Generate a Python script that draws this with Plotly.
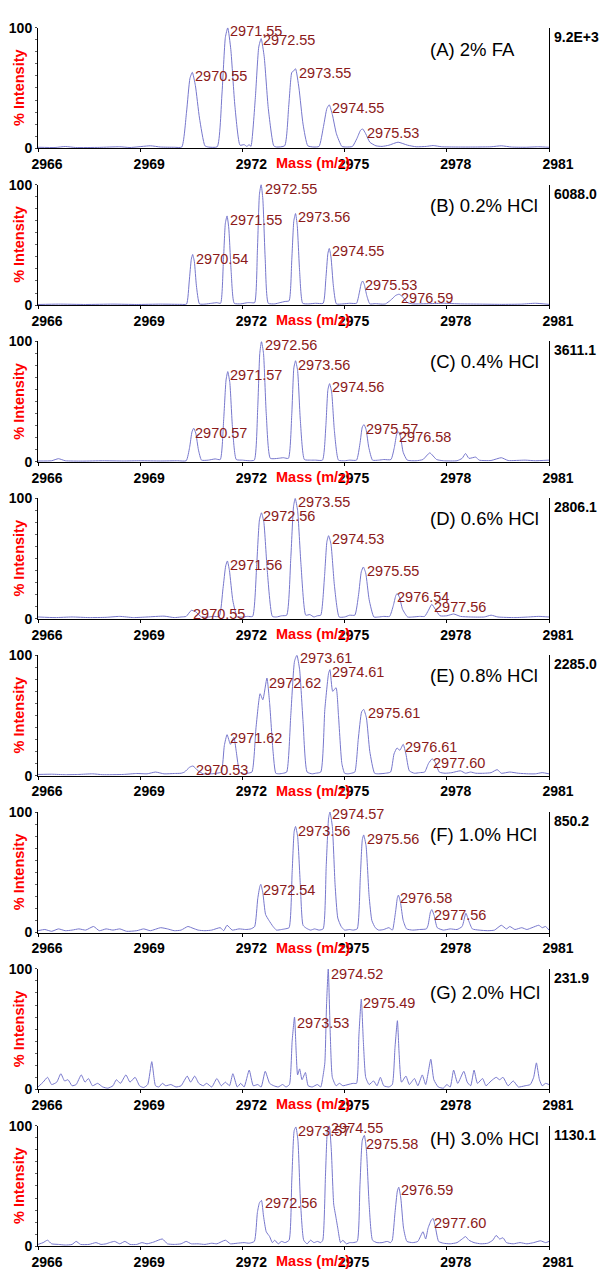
import plotly.graph_objects as go

# ---------------- data ----------------
conditions = ["(A) 2% FA", "(B) 0.2% HCl", "(C) 0.4% HCl", "(D) 0.6% HCl",
              "(E) 0.8% HCl", "(F) 1.0% HCl", "(G) 2.0% HCl", "(H) 3.0% HCl"]
max_counts = ["9.2E+3", "6088.0", "3611.1", "2806.1", "2285.0", "850.2", "231.9", "1130.1"]
x_ticks = [2966, 2969, 2972, 2975, 2978, 2981]

mz_A = [2966.0, 2966.5, 2966.8, 2967.1, 2967.8, 2968.4, 2968.7, 2969.3, 2969.6, 2970.0,
        2970.22, 2970.36, 2970.46, 2970.53, 2970.62, 2970.74, 2970.9, 2971.0,
        2971.26, 2971.40, 2971.50, 2971.57, 2971.66, 2971.78, 2971.93, 2972.05, 2972.13, 2972.2,
        2972.25, 2972.38, 2972.48, 2972.55, 2972.64, 2972.76, 2972.92, 2973.0,
        2973.24, 2973.36, 2973.45, 2973.50, 2973.56, 2973.66, 2973.78, 2973.92, 2974.1,
        2974.25, 2974.38, 2974.48, 2974.55, 2974.64, 2974.76, 2974.92, 2975.05,
        2975.23, 2975.36, 2975.47, 2975.53, 2975.62, 2975.74, 2975.92, 2976.1,
        2976.3, 2976.57, 2976.85, 2977.1, 2977.4, 2977.6, 2977.85, 2978.3, 2978.8,
        2979.3, 2979.6, 2979.9, 2980.3, 2980.7, 2981.0]
int_A = [0.8, 0.6, 1.4, 0.6, 0.7, 1.2, 0.6, 2.0, 1.0, 0.8,
         1.0, 30, 58, 63, 52, 25, 2, 1.0,
         1.2, 45, 92, 100, 82, 35, 2.5, 3.0, 1.5, 3.0,
         1.5, 42, 84, 91, 76, 33, 2, 1.0,
         2, 35, 63, 64, 66, 50, 20, 2, 1.0,
         1.5, 18, 33, 36, 28, 12, 1.5, 1.0,
         1.5, 8, 15, 16, 12, 5, 2, 1.5,
         2.5, 5, 2.5, 1.2, 1.5, 2.2, 1.2, 1.0, 1.0,
         1.2, 2.0, 1.0, 0.8, 1.2, 0.8]

mz_B = [2966.0, 2966.6, 2967.4, 2968.2, 2968.9, 2969.6, 2970.2,
        2970.36, 2970.44, 2970.50, 2970.54, 2970.59, 2970.65, 2970.74, 2970.9, 2971.1, 2971.25,
        2971.36, 2971.44, 2971.50, 2971.55, 2971.60, 2971.67, 2971.76, 2971.95, 2972.15, 2972.25,
        2972.36, 2972.44, 2972.50, 2972.55, 2972.60, 2972.67, 2972.76, 2972.95, 2973.1, 2973.25,
        2973.37, 2973.45, 2973.51, 2973.56, 2973.61, 2973.68, 2973.77, 2973.95, 2974.15,
        2974.37, 2974.45, 2974.51, 2974.55, 2974.60, 2974.67, 2974.76, 2974.95, 2975.15,
        2975.35, 2975.43, 2975.49, 2975.53, 2975.58, 2975.65, 2975.74, 2975.9, 2976.1,
        2976.2, 2976.35, 2976.5, 2976.6, 2976.7, 2976.85, 2977.0,
        2977.5, 2977.9, 2978.4, 2979.0, 2979.6, 2980.2, 2980.6, 2981.0]
int_B = [0.5, 0.8, 0.5, 0.8, 0.5, 0.8, 0.6,
         0.8, 20, 38, 42, 36, 16, 1, 0.8, 1.5, 2.0,
         1.5, 35, 68, 74, 64, 28, 1.5, 1.0, 2.0, 2.0,
         2, 45, 92, 100, 88, 38, 1.5, 1.0, 2.0, 3.0,
         3.5, 38, 70, 76, 66, 28, 1.5, 1.0, 1.5,
         1.5, 22, 43, 47, 40, 16, 1.0, 1.0, 1.5,
         1.5, 10, 18, 20, 17, 8, 1.0, 1.2, 0.8,
         1.0, 4, 8, 9, 7, 2, 1.0,
         1.2, 1.5, 1.0, 0.8, 0.6, 0.8, 1.5, 0.6]

mz_C = [2966.0, 2966.4, 2966.6, 2966.8, 2967.3, 2967.9, 2968.5, 2969.0, 2969.6, 2970.1,
        2970.35, 2970.45, 2970.52, 2970.57, 2970.63, 2970.71, 2970.8, 2971.0, 2971.2,
        2971.35, 2971.45, 2971.52, 2971.57, 2971.63, 2971.71, 2971.82, 2972.0, 2972.2,
        2972.35, 2972.45, 2972.51, 2972.56, 2972.62, 2972.70, 2972.82, 2973.05, 2973.2,
        2973.35, 2973.45, 2973.51, 2973.56, 2973.62, 2973.70, 2973.82, 2974.0, 2974.15,
        2974.35, 2974.45, 2974.51, 2974.56, 2974.62, 2974.70, 2974.82, 2975.0, 2975.15,
        2975.35, 2975.45, 2975.52, 2975.57, 2975.63, 2975.71, 2975.82, 2976.0, 2976.15,
        2976.36, 2976.46, 2976.53, 2976.58, 2976.64, 2976.72, 2976.84,
        2977.1, 2977.3, 2977.5, 2977.7, 2977.9, 2978.3, 2978.45, 2978.55, 2978.65, 2978.85,
        2978.95, 2979.3, 2979.6, 2979.8, 2980.3, 2980.6, 2981.0]
int_C = [0.8, 1.0, 2.7, 1.0, 0.7, 1.0, 0.8, 1.0, 0.8, 1.0,
         1, 12, 25, 28, 24, 10, 1.5, 1.5, 2.5,
         2, 35, 68, 75, 66, 28, 2, 1.5, 1.0,
         1.5, 45, 90, 100, 90, 40, 3, 3.0, 3.5,
         3, 40, 78, 84, 76, 35, 2, 1.5, 1.5,
         1.5, 30, 60, 65, 58, 26, 1.5, 1.0, 1.5,
         1.5, 15, 29, 31, 27, 12, 1.5, 1.5, 2,
         2, 12, 23, 25, 21, 8, 1.5,
         1.0, 2, 7.5, 2, 1.0, 1.0, 3, 7, 3, 4,
         1.5, 1.2, 3.5, 1.2, 1.5, 1.0, 1.5]

mz_D = [2966.0, 2966.5, 2967.0, 2967.5, 2968.0, 2968.4, 2968.8, 2969.2, 2969.7, 2970.0, 2970.2,
        2970.35, 2970.5, 2970.62, 2970.8, 2971.0, 2971.15,
        2971.32, 2971.43, 2971.51, 2971.56, 2971.62, 2971.72, 2971.85, 2972.0, 2972.15,
        2972.30, 2972.42, 2972.50, 2972.56, 2972.63, 2972.73, 2972.88, 2973.0, 2973.15,
        2973.30, 2973.42, 2973.50, 2973.55, 2973.62, 2973.72, 2973.86, 2973.98, 2974.1, 2974.2,
        2974.30, 2974.41, 2974.48, 2974.53, 2974.60, 2974.70, 2974.84, 2975.0, 2975.15,
        2975.30, 2975.41, 2975.49, 2975.55, 2975.62, 2975.72, 2975.86, 2976.0, 2976.15,
        2976.32, 2976.43, 2976.50, 2976.54, 2976.61, 2976.70, 2976.85, 2977.0, 2977.2,
        2977.35, 2977.46, 2977.56, 2977.66, 2977.8,
        2978.0, 2978.2, 2978.4, 2978.7, 2979.1, 2979.3, 2979.5, 2980.0, 2980.4, 2980.7, 2981.0]
int_D = [1.5, 1.0, 1.5, 1.0, 1.2, 2.0, 1.0, 1.5, 2.2, 1.0, 1.5,
         2, 7, 6, 1.5, 1.5, 2,
         2, 25, 44, 48, 40, 15, 1.5, 1.5, 2,
         2, 45, 82, 88, 80, 40, 2, 1.5, 2.5,
         3, 50, 93, 100, 90, 45, 3, 3.5, 1.5, 2.5,
         3, 35, 64, 69, 62, 28, 1.5, 1.5, 3,
         3, 20, 39, 43, 38, 16, 1.5, 1.5, 2,
         2, 11, 19, 21, 18, 8, 1.5, 1.5, 2,
         2, 7, 12, 8, 2.5,
         2.5, 4, 2, 1.5, 1.5, 3, 1.5, 1.0, 1.5, 2, 1.5]

mz_E = [2966.0, 2966.4, 2966.8, 2967.2, 2967.6, 2967.9, 2968.5, 2968.9, 2969.2, 2969.45, 2969.7,
        2970.0, 2970.2, 2970.3, 2970.45, 2970.55, 2970.7, 2970.85, 2971.1, 2971.25,
        2971.38, 2971.47, 2971.55, 2971.65, 2971.75, 2971.82, 2971.92, 2972.05, 2972.15,
        2972.28, 2972.40, 2972.52, 2972.60, 2972.72, 2972.80, 2972.9, 2972.98, 2973.08, 2973.2,
        2973.30, 2973.42, 2973.53, 2973.6, 2973.68, 2973.78, 2973.9, 2974.05, 2974.15,
        2974.30, 2974.42, 2974.53, 2974.57, 2974.65, 2974.75, 2974.82, 2974.92, 2975.0, 2975.1, 2975.2,
        2975.30, 2975.40, 2975.50, 2975.56, 2975.64, 2975.74, 2975.88, 2976.0, 2976.2,
        2976.35, 2976.45, 2976.54, 2976.62, 2976.72, 2976.8, 2976.9, 2977.05, 2977.2,
        2977.35, 2977.46, 2977.57, 2977.66, 2977.78,
        2977.95, 2978.15, 2978.4, 2978.55, 2978.7, 2978.85, 2979.1, 2979.3, 2979.48, 2979.6,
        2979.85, 2980.1, 2980.4, 2980.6, 2980.8, 2981.0]
int_E = [1.0, 1.2, 0.8, 1.0, 1.5, 0.8, 1.0, 1.8, 1.5, 3, 1.5,
         1.8, 2, 3, 7, 8, 4, 1.5, 1.5, 2,
         3, 25, 34, 26, 32, 20, 3, 1.5, 2,
         3, 40, 68, 63, 81, 60, 20, 2, 1.5, 2,
         3, 50, 95, 100, 88, 45, 3, 1.5, 2,
         3, 55, 85, 88, 70, 73, 50, 10, 2, 1.5, 2,
         3, 30, 53, 55, 48, 20, 2, 1.5, 2,
         3, 18, 23, 21, 26, 18, 4, 2, 2.5,
         3, 10, 14, 11, 3,
         2, 2.5, 4, 2, 3, 2, 2, 2.5, 5, 2,
         3, 2, 1.5, 1.5, 2.5, 1.5]

mz_F = [2966.0, 2966.2, 2966.4, 2966.6, 2966.8, 2967.0, 2967.2, 2967.4, 2967.63, 2967.8,
        2968.0, 2968.2, 2968.4, 2968.6, 2968.9, 2969.1, 2969.3, 2969.6, 2969.8, 2970.0,
        2970.2, 2970.4, 2970.55, 2970.7, 2970.9, 2971.1, 2971.35, 2971.45, 2971.55, 2971.7,
        2971.9, 2972.1, 2972.25,
        2972.36, 2972.45, 2972.51, 2972.54, 2972.60, 2972.68, 2972.78, 2972.9, 2973.0, 2973.15, 2973.25,
        2973.37, 2973.46, 2973.52, 2973.56, 2973.62, 2973.70, 2973.78, 2973.88, 2974.0, 2974.12, 2974.25,
        2974.37, 2974.46, 2974.53, 2974.57, 2974.64, 2974.72, 2974.8, 2974.9, 2975.0, 2975.15, 2975.25,
        2975.37, 2975.46, 2975.52, 2975.56, 2975.63, 2975.72, 2975.8, 2975.9, 2976.0, 2976.15, 2976.3, 2976.4,
        2976.42, 2976.5, 2976.55, 2976.58, 2976.64, 2976.72, 2976.82, 2977.0, 2977.2, 2977.4,
        2977.45, 2977.52, 2977.56, 2977.63, 2977.72, 2977.9, 2978.1, 2978.3, 2978.45, 2978.56,
        2978.64, 2978.75, 2978.95, 2979.2, 2979.4, 2979.6, 2979.75, 2979.85, 2980.0, 2980.2,
        2980.35, 2980.5, 2980.7, 2980.8, 2980.9, 2981.0]
int_F = [1.5, 2.5, 1.0, 3, 1.5, 2, 3, 2, 5, 1.5,
         3, 2, 3, 1.0, 1.5, 3, 1.5, 4, 3, 1.5,
         2, 5, 3.5, 2, 1.5, 2, 4, 1.5, 6, 2,
         3, 2.5, 3,
         5, 28, 38, 40, 33, 15, 10, 5, 2, 2.5, 3,
         4, 50, 84, 88, 80, 40, 6, 3.5, 2, 3, 2,
         3, 55, 95, 100, 88, 40, 12, 5, 2, 2.5, 2,
         3, 45, 77, 81, 72, 30, 10, 4, 2, 2.5, 4, 2,
         3, 18, 29, 31, 25, 10, 3, 2, 2.5, 3,
         6, 17, 19, 14, 4, 2, 3, 2.5, 5, 16,
         10, 3, 2, 1.5, 2, 6, 3, 5, 2.5, 4,
         2.5, 4, 6, 4, 5, 2]

mz_G = [2966.0, 2966.15, 2966.28, 2966.4, 2966.55, 2966.67, 2966.78, 2966.88, 2967.0, 2967.12,
        2967.27, 2967.38, 2967.48, 2967.6, 2967.75, 2967.9, 2968.05, 2968.2, 2968.3, 2968.42,
        2968.58, 2968.7, 2968.85, 2968.98, 2969.1, 2969.22, 2969.34, 2969.45, 2969.55, 2969.65,
        2969.75, 2969.9, 2970.05, 2970.2, 2970.38, 2970.48, 2970.6, 2970.72, 2970.85, 2970.95,
        2971.1, 2971.25, 2971.38, 2971.5, 2971.62, 2971.72, 2971.85, 2971.95, 2972.05, 2972.2,
        2972.32, 2972.45, 2972.55, 2972.67, 2972.8, 2972.92, 2973.05, 2973.18, 2973.28,
        2973.38, 2973.46, 2973.53, 2973.58, 2973.62, 2973.68, 2973.75, 2973.85, 2973.93, 2974.05,
        2974.2, 2974.3, 2974.36, 2974.42, 2974.47, 2974.52, 2974.58, 2974.64, 2974.75, 2974.85,
        2974.95, 2975.1, 2975.25, 2975.35, 2975.42, 2975.49, 2975.55, 2975.62, 2975.72, 2975.85,
        2975.95, 2976.05, 2976.15, 2976.3, 2976.4, 2976.48, 2976.55, 2976.6, 2976.67, 2976.8,
        2976.9, 2977.05, 2977.15, 2977.28, 2977.38, 2977.53, 2977.62, 2977.75, 2977.9, 2978.0,
        2978.1, 2978.2, 2978.32, 2978.5, 2978.6, 2978.7, 2978.8, 2978.9, 2979.05, 2979.15,
        2979.3, 2979.45, 2979.55, 2979.65, 2979.8, 2979.95, 2980.1, 2980.3, 2980.45, 2980.55,
        2980.63, 2980.72, 2980.8, 2980.9, 2981.0]
int_G = [2, 6, 10, 4, 6, 13, 7, 8, 3, 4,
         12, 6, 9, 3, 5, 2, 1, 3, 8, 5,
         12, 6, 10, 3, 1.5, 4, 23, 3, 2, 5,
         3, 4, 2, 3, 11, 6, 11, 5, 3, 5,
         2, 9, 3, 6, 3, 13, 2, 5, 2, 16,
         3, 4, 2, 15, 5, 3, 2, 4, 2,
         4, 40, 60, 30, 12, 17, 8, 14, 3, 2,
         4, 2, 10, 22, 70, 100, 45, 10, 3, 5,
         3, 4, 5, 5, 45, 75, 40, 10, 4, 7,
         3, 10, 3, 2, 4, 35, 57, 30, 6, 11,
         4, 9, 3, 12, 4, 25, 8, 2, 1, 4,
         2, 16, 5, 15, 6, 3, 16, 5, 9, 3,
         7, 10, 8, 10, 3, 7, 2, 3, 4, 10,
         22, 8, 3, 5, 4]

mz_H = [2966.0, 2966.15, 2966.28, 2966.4, 2966.6, 2966.8, 2967.0, 2967.12, 2967.25, 2967.5,
        2967.7, 2967.85, 2968.0, 2968.1, 2968.25, 2968.4, 2968.55, 2968.7, 2968.9, 2969.05,
        2969.2, 2969.4, 2969.65, 2969.8, 2970.0, 2970.2, 2970.35, 2970.5, 2970.7, 2970.9,
        2971.1, 2971.25, 2971.5, 2971.65, 2971.85, 2972.05, 2972.2,
        2972.35, 2972.44, 2972.5, 2972.56, 2972.62, 2972.7, 2972.8, 2972.88, 2972.95, 2973.05, 2973.15, 2973.25,
        2973.37, 2973.45, 2973.52, 2973.57, 2973.63, 2973.70, 2973.8, 2973.9, 2974.0, 2974.1, 2974.2, 2974.3,
        2974.36, 2974.44, 2974.5, 2974.55, 2974.61, 2974.68, 2974.74, 2974.8, 2974.88, 2974.95, 2975.05, 2975.15, 2975.25,
        2975.37, 2975.45, 2975.52, 2975.58, 2975.64, 2975.72, 2975.82, 2975.95, 2976.1, 2976.25, 2976.35,
        2976.4, 2976.48, 2976.55, 2976.59, 2976.65, 2976.73, 2976.83, 2977.0, 2977.15, 2977.3, 2977.38,
        2977.45, 2977.55, 2977.6, 2977.67, 2977.76, 2977.9, 2978.1, 2978.3, 2978.45, 2978.55, 2978.65,
        2978.8, 2979.0, 2979.2, 2979.35, 2979.45, 2979.55, 2979.65, 2979.75, 2979.95, 2980.15,
        2980.35, 2980.55, 2980.75, 2980.9, 2981.0]
int_H = [1.5, 3, 5, 2, 1.5, 1.0, 1.5, 4, 1.5, 1.5,
         3, 1.5, 2, 3, 4, 2, 4, 1.5, 1.5, 3,
         2, 3.5, 6, 2, 1.5, 2, 4, 2, 2, 1.5,
         2.5, 2, 5, 2, 2.5, 3, 2.5,
         4, 28, 36, 38, 25, 12, 8, 3, 5, 2, 4, 3,
         5, 55, 96, 99, 88, 40, 5, 2, 5, 3, 4, 3,
         5, 60, 97, 100, 80, 35, 25, 15, 3, 5, 2, 3, 3,
         4, 50, 88, 92, 80, 35, 5, 3, 3, 4, 3,
         5, 28, 46, 49, 40, 15, 4, 3, 4, 12, 6,
         15, 22, 23, 15, 4, 2.5, 2, 3, 6, 8, 5,
         3, 2, 2.5, 5, 9, 6, 7, 3, 2, 3,
         2, 3, 4.5, 3, 4]

# peak annotations: text, m/z of label's left edge, % of label's centre
lab_A = ["2970.55", "2971.55", "2972.55", "2973.55", "2974.55", "2975.53"]
lx_A = [2970.54, 2971.59, 2972.55, 2973.59, 2974.57, 2975.60]
ly_A = [60, 97, 90, 62.5, 33, 12.5]
lab_B = ["2970.54", "2971.55", "2972.55", "2973.56", "2974.55", "2975.53", "2976.59"]
lx_B = [2970.57, 2971.58, 2972.59, 2973.57, 2974.58, 2975.54, 2976.60]
ly_B = [38, 71, 96.5, 73, 44.6, 17, 6]
lab_C = ["2970.57", "2971.57", "2972.56", "2973.56", "2974.56", "2975.57", "2976.58"]
lx_C = [2970.56, 2971.58, 2972.59, 2973.57, 2974.58, 2975.57, 2976.55]
ly_C = [24, 72, 97, 80.6, 62, 27.6, 20.5]
lab_D = ["2970.55", "2971.56", "2972.56", "2973.55", "2974.53", "2975.55", "2976.54", "2977.56"]
lx_D = [2970.49, 2971.59, 2972.56, 2973.57, 2974.58, 2975.59, 2976.49, 2977.56]
ly_D = [4, 45, 85, 97, 66, 40, 18, 9.6]
lab_E = ["2970.53", "2971.62", "2972.62", "2973.61", "2974.61", "2975.61", "2976.61", "2977.60"]
lx_E = [2970.58, 2971.57, 2972.73, 2973.62, 2974.57, 2975.62, 2976.71, 2977.55]
ly_E = [5, 31, 77, 98, 86, 52, 24, 10.5]
lab_F = ["2972.54", "2973.56", "2974.57", "2975.56", "2976.58", "2977.56"]
lx_F = [2972.54, 2973.57, 2974.58, 2975.59, 2976.57, 2977.56]
ly_F = [35, 84, 98, 78, 28.5, 14.7]
lab_G = ["2973.53", "2974.52", "2975.49"]
lx_G = [2973.55, 2974.55, 2975.48]
ly_G = [55, 96, 71.6]
lab_H = ["2972.56", "2973.57", "2974.55", "2975.58", "2976.59", "2977.60"]
lx_H = [2972.59, 2973.57, 2974.55, 2975.56, 2976.60, 2977.58]
ly_H = [35.5, 96, 98, 85, 47, 19.5]

spectra = [(mz_A, int_A), (mz_B, int_B), (mz_C, int_C), (mz_D, int_D),
           (mz_E, int_E), (mz_F, int_F), (mz_G, int_G), (mz_H, int_H)]
peak_labels = [(lab_A, lx_A, ly_A), (lab_B, lx_B, ly_B), (lab_C, lx_C, ly_C), (lab_D, lx_D, ly_D),
               (lab_E, lx_E, ly_E), (lab_F, lx_F, ly_F), (lab_G, lx_G, ly_G), (lab_H, lx_H, ly_H)]

# ---------------- style / layout ----------------
W, H = 600, 1276
PL, PR = 38, 549
TOP0, PITCH, PH = 20, 158.85, 122
cond_offset = [22, 21, 20, 20, 20, 22, 24, 13]
FONT = "Liberation Sans, Arial, sans-serif"
LINE = "#7777CC"
LABEL = "#8B1A1A"
RED = "#FF0000"

def px2paper_x(px):
    return (px - PL) / (PR - PL)

fig = go.Figure()
annotations = []
layout_axes = {}
for i, ((mz, inten), (labs, lxs, lys)) in enumerate(zip(spectra, peak_labels)):
    n = "" if i == 0 else str(i + 1)
    xa, ya = "x" + n, "y" + n
    fig.add_trace(go.Scatter(
        x=mz, y=inten, mode="lines", xaxis=xa, yaxis=ya,
        line=dict(color=LINE, width=1, shape="spline", smoothing=0.5),
        hoverinfo="skip", showlegend=False))
    top = TOP0 + PITCH * i
    dom = [1 - (top + PH) / H, 1 - top / H]
    layout_axes["xaxis" + n] = dict(
        domain=[0, 1], anchor=ya, range=[2966, 2981],
        tickmode="array", tickvals=x_ticks, ticktext=[str(v) for v in x_ticks],
        ticks="outside", ticklen=3, tickcolor="black", ticklabelshift=9,
        tickfont=dict(family=FONT, size=14, color="black", weight="bold"),
        showline=True, linecolor="black", linewidth=1, mirror=False,
        showgrid=False, zeroline=False, fixedrange=True)
    layout_axes["yaxis" + n] = dict(
        domain=dom, anchor=xa, range=[0, 100],
        tick0=0, dtick=100, ticks="outside", ticklen=2, tickcolor="#444",
        minor=dict(dtick=10, ticks="outside", ticklen=2, tickcolor="#666"),
        tickfont=dict(family=FONT, size=14, color="black", weight="bold"),
        showline=True, linecolor="black", linewidth=1, mirror=True,
        showgrid=False, zeroline=False, fixedrange=True)

    yd = ya + " domain"
    for t, lx, ly in zip(labs, lxs, lys):
        annotations.append(dict(x=lx, y=ly, xref=xa, yref=ya, text=t, showarrow=False,
                                xanchor="left", yanchor="middle",
                                font=dict(family=FONT, size=14.5, color=LABEL)))
    annotations.append(dict(x=px2paper_x(428), y=1, xref="paper", yref=yd, yshift=-cond_offset[i],
                            text=conditions[i], showarrow=False, xanchor="left", yanchor="middle",
                            font=dict(family=FONT, size=18.5, color="black")))
    annotations.append(dict(x=1, y=1, xref="paper", yref=yd, xshift=3, yshift=-9,
                            text=max_counts[i], showarrow=False, xanchor="left", yanchor="middle",
                            font=dict(family=FONT, size=14, color="black", weight="bold")))
    annotations.append(dict(x=px2paper_x(19), y=0.5, xref="paper", yref=yd, textangle=-90,
                            text="% Intensity", showarrow=False, xanchor="center", yanchor="middle",
                            font=dict(family=FONT, size=14.5, color=RED, weight="bold")))
    annotations.append(dict(x=px2paper_x(313), y=0, xref="paper", yref=yd, yshift=-15,
                            text="Mass (m/z)", showarrow=False, xanchor="center", yanchor="middle",
                            font=dict(family=FONT, size=14.5, color=RED, weight="bold")))

fig.update_layout(
    width=W, height=H, margin=dict(l=PL, r=W - PR, t=0, b=0),
    paper_bgcolor="white", plot_bgcolor="white",
    showlegend=False, annotations=annotations, **layout_axes)

fig.write_html("out.html",
               config={"displayModeBar": False, "staticPlot": True},
               post_script="document.body.style.margin='0';document.body.style.padding='0';"
                           "document.body.style.overflow='hidden';"
                           "document.documentElement.style.overflow='hidden';")
